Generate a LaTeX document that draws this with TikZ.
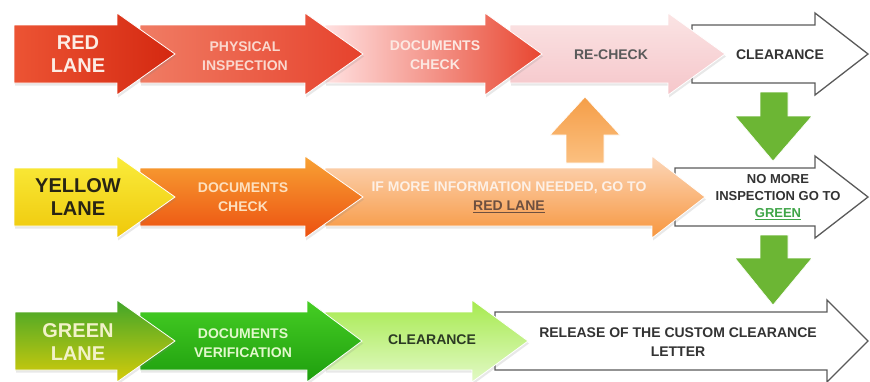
\documentclass[tikz,border=0pt]{standalone}
\usepackage{fontspec}
\setmainfont{Liberation Sans}
\usetikzlibrary{shadows}

\definecolor{outlinegray}{HTML}{5A5A5A}
\definecolor{darktext}{HTML}{333333}
\definecolor{greenlink}{HTML}{3FA548}
\definecolor{redlink}{HTML}{6E5040}
\definecolor{downgreen}{HTML}{6CB634}

% lane arrow: style, body start, head start, tip, centre line
\newcommand\lanearrow[5]{%
  \path[#1] (#2,#5-29) -- (#3,#5-29) -- (#3,#5-41) -- (#4,#5)
    -- (#3,#5+41) -- (#3,#5+29) -- (#2,#5+29) -- cycle;}

\begin{document}
\begin{tikzpicture}[x=1pt,y=-1pt,
  lbl/.style={font=\bfseries\fontsize{14}{19}\selectfont, align=center, inner sep=0pt},
  lanelbl/.style={font=\bfseries\fontsize{20}{23}\selectfont, align=center, inner sep=0pt},
  outlined/.style={fill=white, draw=outlinegray, line width=1.3pt, line join=miter},
  filledarrow/.style={draw=white, line width=0.8pt,
    drop shadow={opacity=0.18, shadow xshift=1pt, shadow yshift=-2.5pt}},
  blockarrow/.style={draw=white, line width=0.6pt},
]
\useasboundingbox (0,0) rectangle (870,381);

% ---------- red lane (drawn right to left so heads overlap) ----------
\lanearrow{outlined}{692}{815}{868}{54}
\lanearrow{filledarrow, top color={rgb,255:red,251;green,228;blue,228}, bottom color={rgb,255:red,245;green,198;blue,202}}{510}{668}{725}{54}
\lanearrow{filledarrow, left color=red!12, right color={rgb,255:red,232;green,70;blue,48}}{325}{485}{542}{54}
\lanearrow{filledarrow, left color={rgb,255:red,240;green,124;blue,100}, right color={rgb,255:red,230;green,66;blue,44}}{140}{305}{363}{54}
\lanearrow{filledarrow, left color={rgb,255:red,236;green,84;blue,52}, right color={rgb,255:red,212;green,40;blue,16}}{14}{117}{175}{54}

% ---------- yellow lane ----------
\lanearrow{outlined}{675}{815}{868}{197}
\lanearrow{filledarrow, top color={rgb,255:red,252;green,214;blue,184}, bottom color={rgb,255:red,247;green,150;blue,62}}{325}{652}{705}{197}
\lanearrow{filledarrow, top color={rgb,255:red,248;green,162;blue,52}, bottom color={rgb,255:red,236;green,80;blue,16}}{140}{305}{363}{197}
\lanearrow{filledarrow, top color={rgb,255:red,250;green,236;blue,60}, bottom color={rgb,255:red,239;green,200;blue,10}}{14}{117}{175}{197}

% ---------- green lane ----------
\lanearrow{outlined}{495}{827}{868}{341}
\lanearrow{filledarrow, top color={rgb,255:red,166;green,234;blue,78}, bottom color={rgb,255:red,226;green,249;blue,198}}{325}{472}{528}{341}
\lanearrow{filledarrow, top color={rgb,255:red,70;green,206;blue,36}, bottom color={rgb,255:red,30;green,158;blue,14}}{140}{307}{362}{341}
\lanearrow{filledarrow, top color={rgb,255:red,64;green,165;blue,42}, bottom color={rgb,255:red,214;green,204;blue,10}}{15}{117}{175}{341}

% ---------- vertical block arrows ----------
\path[blockarrow, top color={rgb,255:red,245;green,158;blue,72}, bottom color={rgb,255:red,251;green,192;blue,128}]
  (566,163) -- (566,135) -- (550,135) -- (585,97) -- (620,135) -- (604,135) -- (604,163) -- cycle;
\path[blockarrow, fill=downgreen]
  (760,92) -- (788,92) -- (788,116) -- (812,116) -- (773,161) -- (735,116) -- (760,116) -- cycle;
\path[blockarrow, fill=downgreen]
  (760,235) -- (788,235) -- (788,258) -- (812,258) -- (773,305) -- (735,258) -- (760,258) -- cycle;

% ---------- labels ----------
\node[lanelbl, text={rgb,255:red,252;green,236;blue,228}] (r1) at (78,54) {RED\\LANE};
\node[lbl, text={rgb,255:red,250;green,216;blue,206}] (r2) at (245,56) {PHYSICAL\\INSPECTION};
\node[lbl, text={rgb,255:red,252;green,232;blue,226}] (r3) at (435,55) {DOCUMENTS\\CHECK};
\node[lbl, text=outlinegray] (r4) at (611,55) {RE-CHECK};
\node[lbl, text=darktext] (r5) at (780,55) {CLEARANCE};

\node[lanelbl, text={rgb,255:red,40;green,36;blue,20}] (y1) at (78,197) {YELLOW\\LANE};
\node[lbl, text={rgb,255:red,253;green,224;blue,190}] (y2) at (243,197) {DOCUMENTS\\CHECK};
\node[lbl, text={rgb,255:red,253;green,240;blue,230}] (y3) at (509,197)
  {IF MORE INFORMATION NEEDED, GO TO\\\textcolor{redlink}{\underline{RED LANE}}};
\node[lbl, font=\bfseries\fontsize{13}{17}\selectfont, text=darktext] (y4) at (778,197)
  {NO MORE\\INSPECTION GO TO\\\textcolor{greenlink}{\underline{GREEN}}};

\node[lanelbl, text={rgb,255:red,242;green,242;blue,200}] (g1) at (78,342) {GREEN\\LANE};
\node[lbl, text={rgb,255:red,226;green,248;blue,204}] (g2) at (243,343) {DOCUMENTS\\VERIFICATION};
\node[lbl, text={rgb,255:red,44;green,58;blue,36}] (g3) at (432,340) {CLEARANCE};
\node[lbl, text=darktext] (g4) at (678,342) {RELEASE OF THE CUSTOM CLEARANCE\\LETTER};
\end{tikzpicture}
\end{document}
